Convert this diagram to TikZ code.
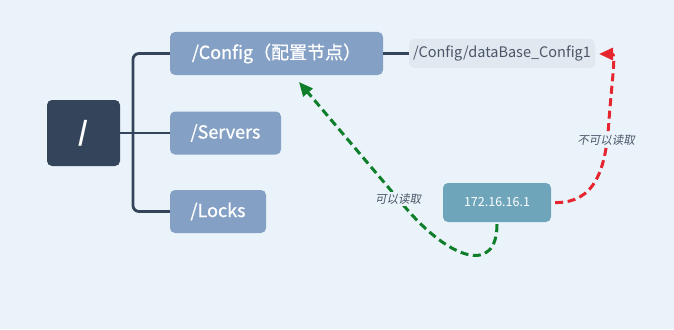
\documentclass[tikz,border=0pt]{standalone}
\usepackage{fontspec}
\setmainfont{Noto Sans CJK SC}
\newfontfamily\boxfont[FakeBold=0.8]{Noto Sans CJK SC}
\newfontfamily\slantcjk[FakeSlant=0.2]{Noto Sans CJK SC}
\usepackage{xcolor}
\usetikzlibrary{arrows.meta, positioning}

\definecolor{bgc}{HTML}{EBF3FA}
\definecolor{rootc}{HTML}{33445B}
\definecolor{nodec}{HTML}{84A1C5}
\definecolor{leafc}{HTML}{E1E8EF}
\definecolor{ipc}{HTML}{6FA5BB}
\definecolor{okc}{HTML}{0E7E2A}
\definecolor{noc}{HTML}{E5262E}
\definecolor{labc}{HTML}{4A5568}

\begin{document}
\begin{tikzpicture}[
    x=1pt, y=-1pt,
    root/.style={fill=rootc, text=white, rounded corners=5pt,
                 minimum width=73pt, minimum height=66pt,
                 font=\fontsize{26}{30}\selectfont\bfseries},
    znode/.style={fill=nodec, text=white, rounded corners=5pt,
                  minimum height=43pt,
                  font=\fontsize{18}{21}\boxfont},
    leaf/.style={fill=leafc, text=labc, rounded corners=5pt,
                 minimum width=186pt, minimum height=29pt,
                 font=\fontsize{14.5}{17}\selectfont},
    client/.style={fill=ipc, text=white, rounded corners=5pt,
                   minimum width=108pt, minimum height=39pt,
                   font=\fontsize{12.5}{15}\selectfont},
    tree/.style={draw=rootc, line width=2.8pt},
    read/.style={dashed, dash pattern=on 8pt off 4.5pt, line width=3pt,
                 -{Triangle[length=14pt, width=12pt]}},
    note/.style={text=labc, fill=bgc, inner sep=2pt,
                 font=\fontsize{11.5}{14}\slantcjk}
  ]
  \fill[bgc] (0,0) rectangle (674,329);

  \node[root] (root) at (83.5, 133) {/};
  \node[znode, minimum width=213pt] (cfg) at (276.5, 53.5) {/Config（配置节点）};
  \node[znode, minimum width=111pt] (srv) at (225.5, 133) {/Servers};
  \node[znode, minimum width=96pt] (lck) at (218, 211.5) {/Locks};
  \node[leaf] (dbc) at (502, 53.5) {/Config/dataBase\_Config1};
  \node[client] (ip) at (497, 202.5) {172.16.16.1};

  % tree lines
  \coordinate (fork) at (133, 133);
  \draw[tree] (root) -- (srv);
  \draw[tree, rounded corners=6pt] (fork) |- (cfg.west);
  \draw[tree, rounded corners=6pt] (fork) |- (lck.west);
  \draw[tree] (cfg) -- (dbc);

  % access arrows
  \coordinate (oktip) at (299, 82);
  \coordinate (notip) at (599, 54);
  \draw[read, okc, shorten <=2pt] (ip.south)
    .. controls (497, 275) and (450, 260) .. (405, 207) -- (oktip);
  \draw[read, noc, shorten <=4pt] (ip.east)
    .. controls (595, 203) and (606, 170) .. (609, 120)
    .. controls (612, 80) and (616, 54) .. (notip);

  \node[note] (okl) at (398, 199) {可以读取};
  \node[note] (nol) at (606, 140) {不可以读取};
\end{tikzpicture}
\end{document}
